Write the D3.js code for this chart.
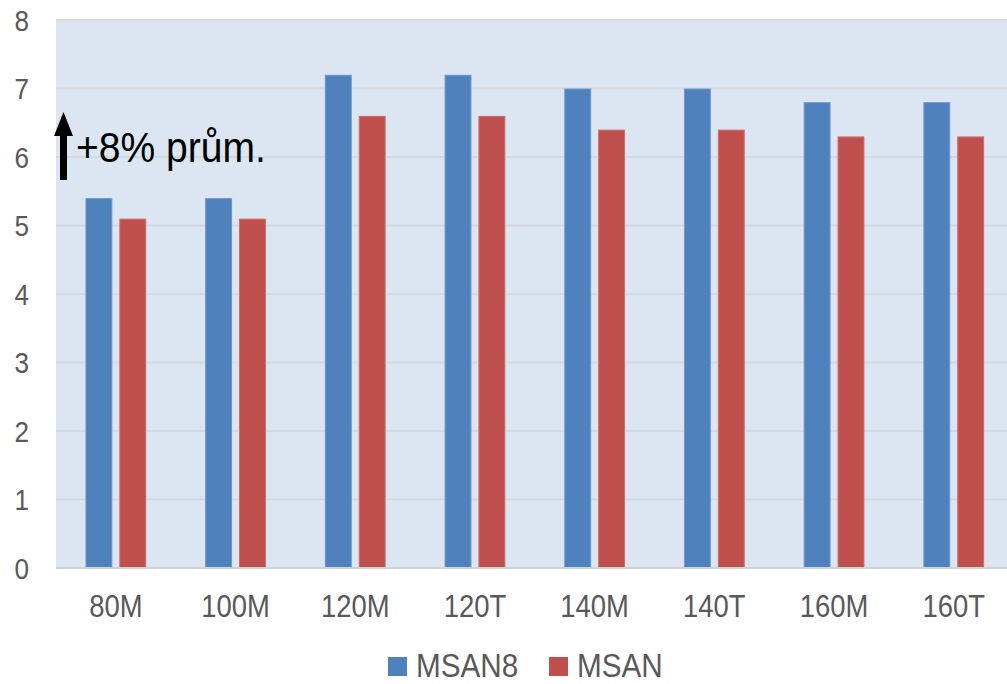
<!DOCTYPE html>
<html><head><meta charset="utf-8">
<script src="https://cdn.jsdelivr.net/npm/d3@7"></script>
<style>body{margin:0;background:#fff;}svg{display:block;font-family:"Liberation Sans",Arial,sans-serif;}</style>
</head><body>
<svg id="c" width="1007" height="684"></svg>
<script>
const categories = ["80M","100M","120M","120T","140M","140T","160M","160T"];
const seriesNames = ["MSAN8","MSAN"];
const msan8 = [5.4,5.4,7.2,7.2,7.0,7.0,6.8,6.8];
const msan = [5.1,5.1,6.6,6.6,6.4,6.4,6.3,6.3];
const yTicks = [0,1,2,3,4,5,6,7,8];
const colors = ["#4F81BD","#C0504D"];
const strokes = ["#6C97CB","#D06A67"];
const annotation = "+8% prům.";

(function(){
const svg = d3.select("#c");
const plotLeft = 56, plotTop = 20, plotBottom = 568, step = 119.7;
const x0 = d3.scaleBand().domain(categories).range([plotLeft, plotLeft + step*categories.length]).padding(0);
const x1 = d3.scaleBand().domain(seriesNames).range([0, x0.bandwidth()]).paddingInner(0.206).paddingOuter(0.87);
const y = d3.scaleLinear().domain([0,8]).range([plotBottom, plotTop]);

svg.append("rect").attr("x", plotLeft).attr("y", plotTop).attr("width", 1007-plotLeft).attr("height", plotBottom-plotTop).attr("fill", "#DCE6F2");

svg.append("g").selectAll("line").data(yTicks).join("line")
  .attr("x1", plotLeft).attr("x2", 1007).attr("y1", d=>y(d)).attr("y2", d=>y(d))
  .attr("stroke", "#D5D8DC").attr("stroke-width", 2);

const yl = svg.append("g").selectAll("g").data(yTicks).join("g")
  .attr("transform", d=>`translate(29,${y(d)+10.5}) scale(0.9,1)`);
yl.append("text").attr("text-anchor","end").attr("font-size",29).attr("fill","#595959").text(d=>d);

const data = categories.map((c,i)=>({c, vals:[msan8[i], msan[i]]}));
const groups = svg.append("g").selectAll("g").data(data).join("g").attr("transform", d=>`translate(${x0(d.c)},0)`);
groups.selectAll("rect").data(d=>d.vals.map((v,j)=>({s:seriesNames[j], v, j}))).join("rect")
  .attr("x", d=>x1(d.s)+0.5).attr("width", x1.bandwidth()-1)
  .attr("y", d=>y(d.v)+0.5).attr("height", d=>plotBottom - y(d.v)-0.5)
  .attr("fill", d=>colors[d.j]).attr("stroke", d=>strokes[d.j]).attr("stroke-width",1);

svg.append("line").attr("x1", plotLeft).attr("x2",1007).attr("y1",plotBottom).attr("y2",plotBottom).attr("stroke","#D0D3D6").attr("stroke-width",2);

const xl = svg.append("g").selectAll("g").data(categories).join("g")
  .attr("transform", d=>`translate(${x0(d)+x0.bandwidth()/2},617) scale(0.9,1)`);
xl.append("text").attr("text-anchor","middle").attr("font-size",30.5).attr("fill","#595959").text(d=>d);

svg.append("path").attr("d","M63.5,112 L73,136 L67,136 L67,180 L60,180 L60,136 L54,136 Z").attr("fill","#000");
svg.append("g").attr("transform","translate(76,162) scale(0.93,1)")
  .append("text").attr("font-size",42).attr("fill","#000").text(annotation);

const legX = [388, 549];
const lg = svg.append("g").selectAll("g").data(seriesNames).join("g");
lg.append("rect").attr("x",(d,i)=>legX[i]).attr("y",657).attr("width",19).attr("height",19).attr("fill",(d,i)=>colors[i]);
lg.append("g").attr("transform",(d,i)=>`translate(${legX[i]+28},677) scale(0.9,1)`)
  .append("text").attr("font-size",33).attr("fill","#595959").text(d=>d);
})();
</script>
</body></html>
